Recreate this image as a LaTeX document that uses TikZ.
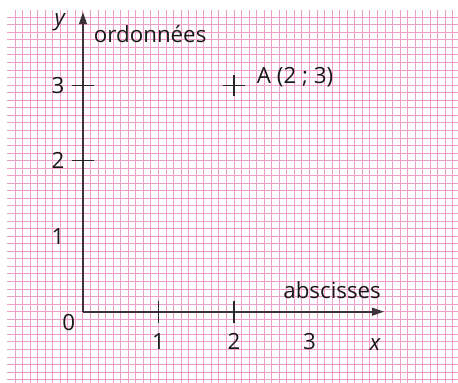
\documentclass[tikz,border=0pt]{standalone}
\usepackage{fontspec}
\setmainfont{Open Sans}
\usetikzlibrary{arrows.meta}
\usetikzlibrary{positioning}
\definecolor{rose}{RGB}{240,160,200}
\definecolor{axe}{RGB}{62,50,58}

\begin{document}
\begin{tikzpicture}[x=1.51cm, y=1.51cm, lbl/.style = {font=\fontsize{12.7}{15}\selectfont, text=black!90, inner sep=0pt}, axis/.style = {draw=axe, line width=1.1pt, -{Triangle[length=7pt,width=4.4pt]}}, tick/.style = {draw=black!85, line width=0.75pt}]
            \useasboundingbox (-1.099,-0.944) rectangle (4.967,4.128);
            \draw[rose, line width=0.55pt, step=0.1] (-1.0,-0.944) grid (4.967,4.0);
            \coordinate (O) at (0,0);
            \coordinate (xend) at (3.99,0);
            \coordinate (yend) at (0,3.97);
            \coordinate (A) at (2,3);
            \draw[axis] (O) -- (xend);
            \draw[axis] (O) -- (yend);
            \foreach \i in {1,2} \draw[tick] (\i,-0.15) -- (\i,0.14);
            \foreach \j in {2,3} \draw[tick] (-0.14,\j) -- (0.14,\j);
            \draw[tick] (1.86,3) -- (2.14,3) (2,2.86) -- (2,3.14);
            \foreach \i in {1,2,3} \node[lbl] (x\i) at (\i,-0.40) {\i};
            \foreach \j in {1,2,3} \node[lbl] (y\j) at (-0.33,\j) {\j};
            \node[lbl] (zero) at (-0.19,-0.15) {0};
            \node[lbl] (xlab) at (3.87,-0.44) {\textit{x}};
            \node[lbl] (ylab) at (-0.30,3.84) {\textit{y}};
            \node[lbl] (ord) at (0.89,3.68) {ordonnées};
            \node[lbl] (abs) at (3.30,0.29) {abscisses};
            \node[lbl, anchor=west] (labA) at (2.30,3.11) {A (2 ; 3)};
\end{tikzpicture}
\end{document}
